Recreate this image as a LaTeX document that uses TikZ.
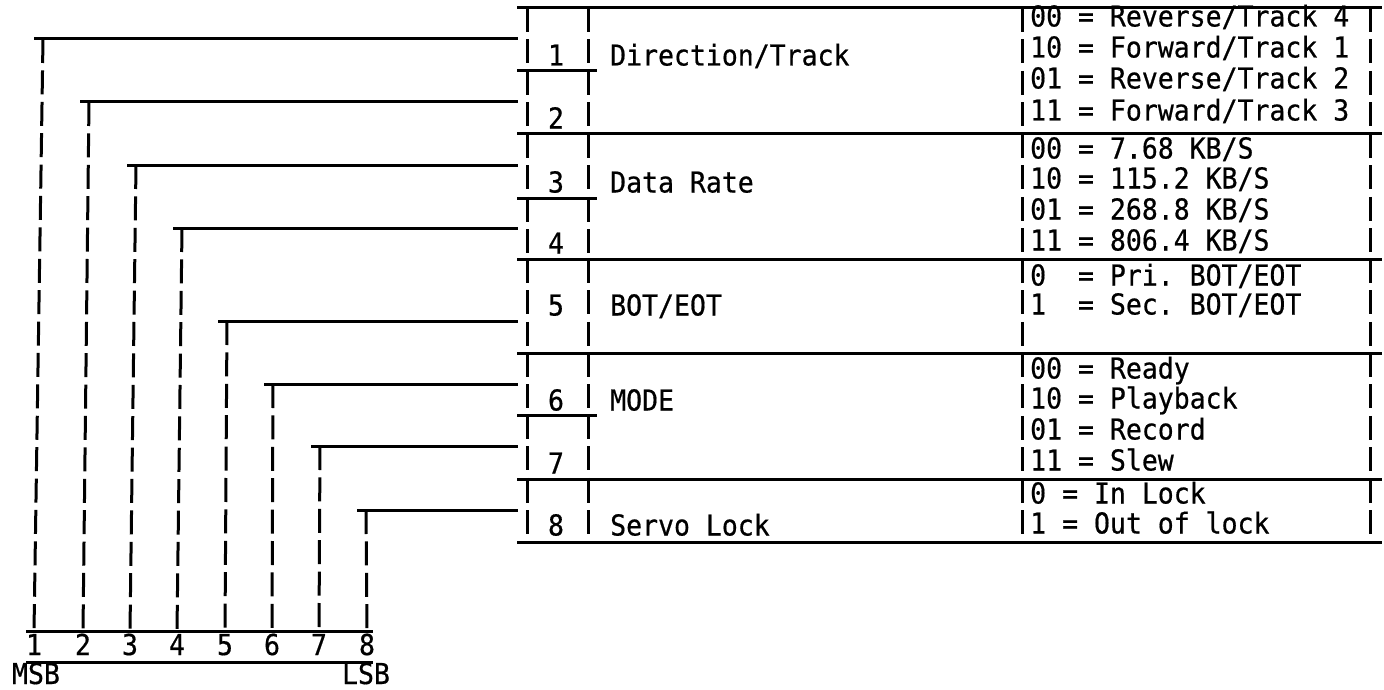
\documentclass[tikz,border=0pt]{standalone}
\usepackage{fontspec}
\newfontfamily\tw[FakeStretch=0.92,FakeBold=0.6]{DejaVu Sans Mono}
\begin{document}
\frenchspacing
\begin{tikzpicture}[x=1pt,y=-1pt,
  rule/.style={line width=3pt},
  vdash/.style={line width=3pt, dash pattern=on 24pt off 7.4pt},
  txt/.style={inner sep=0pt, anchor=base west, font=\tw\fontsize{28.8}{30}\selectfont},
  ctxt/.style={inner sep=0pt, anchor=base, font=\tw\fontsize{28.8}{30}\selectfont}]
\useasboundingbox (0,0) rectangle (1384,690);

% bus lines at the bottom
\coordinate (busL) at (26,631);
\coordinate (busR) at (373,631);
\coordinate (bus2L) at (26,662);
\coordinate (bus2R) at (373,662);
\draw[rule] (busL) -- (busR);
\draw[rule] (bus2L) -- (bus2R);
\node[ctxt] (msb) at (36,684) {MSB};
\node[ctxt] (lsb) at (366,684) {LSB};

% bit wires from the bus to the table rows
\foreach \i/\tx/\bx/\ty in {1/43/34/39, 2/89/83/102, 3/136/130/165, 4/182/177/228,
                           5/227/225/321, 6/273/272/384, 7/320/319/446, 8/366/367/510} {
  \coordinate (t\i) at (\tx,\ty);
  \coordinate (b\i) at (\bx,631);
  \coordinate (h\i) at (\tx-9,\ty);
  \coordinate (e\i) at (518,\ty);
  \draw[rule] (h\i) -- (e\i);
  \draw[vdash] (t\i) -- (b\i);
  \node[ctxt] (d\i) at (\bx,655) {\i};
}

% table rules
\foreach \y [count=\k] in {8,134,259,353,479,542} {
  \coordinate (rl\k) at (517,\y);
  \coordinate (rr\k) at (1382,\y);
  \draw[rule] (rl\k) -- (rr\k);
}
\foreach \y [count=\k] in {71,198,415} {
  \coordinate (sl\k) at (517,\y);
  \coordinate (sr\k) at (597,\y);
  \draw[rule] (sl\k) -- (sr\k);
}

% bit column verticals
\foreach \a/\b [count=\k] in {8/71, 71/134, 134/198, 198/259, 259/353, 353/415, 415/479, 479/542} {
  \coordinate (ba\k) at (527,\a);
  \coordinate (bb\k) at (527,\b);
  \coordinate (ca\k) at (588,\a);
  \coordinate (cb\k) at (588,\b);
  \draw[vdash] (ba\k) -- (bb\k);
  \draw[vdash] (ca\k) -- (cb\k);
}
% value column verticals
\foreach \a/\b [count=\k] in {8/134, 134/259, 259/353, 353/479, 479/542} {
  \coordinate (va\k) at (1022,\a);
  \coordinate (vb\k) at (1022,\b);
  \coordinate (wa\k) at (1370,\a);
  \coordinate (wb\k) at (1370,\b);
  \draw[vdash] (va\k) -- (vb\k);
  \draw[vdash] (wa\k) -- (wb\k);
}

% bit numbers
\foreach \i/\y in {1/55, 2/118, 3/182, 4/243, 5/305, 6/400, 7/463, 8/525} {
  \node[ctxt] (bit\i) at (556,\y+10.5) {\i};
}

% field names
\node[txt] (n1) at (610,65.5) {Direction/Track};
\node[txt] (n3) at (610,192.5) {Data Rate};
\node[txt] (n5) at (610,315.5) {BOT/EOT};
\node[txt] (n6) at (610,410.5) {MODE};
\node[txt] (n8) at (610,535.5) {Servo Lock};

% values
\node[txt] (v11) at (1030,26.5) {00 = Reverse/Track 4};
\node[txt] (v12) at (1030,57.5) {10 = Forward/Track 1};
\node[txt] (v13) at (1030,88.5) {01 = Reverse/Track 2};
\node[txt] (v14) at (1030,120.5) {11 = Forward/Track 3};
\node[txt] (v21) at (1030,158.5) {00 = 7.68 KB/S};
\node[txt] (v22) at (1030,188.5) {10 = 115.2 KB/S};
\node[txt] (v23) at (1030,219.5) {01 = 268.8 KB/S};
\node[txt] (v24) at (1030,250.5) {11 = 806.4 KB/S};
\node[txt] (v31) at (1030,285.5) {0\ \ = Pri. BOT/EOT};
\node[txt] (v32) at (1030,314.5) {1\ \ = Sec. BOT/EOT};
\node[txt] (v41) at (1030,378.5) {00 = Ready};
\node[txt] (v42) at (1030,408.5) {10 = Playback};
\node[txt] (v43) at (1030,439.5) {01 = Record};
\node[txt] (v44) at (1030,470.5) {11 = Slew};
\node[txt] (v51) at (1030,503.5) {0 = In Lock};
\node[txt] (v52) at (1030,533.5) {1 = Out of lock};
\end{tikzpicture}
\end{document}
